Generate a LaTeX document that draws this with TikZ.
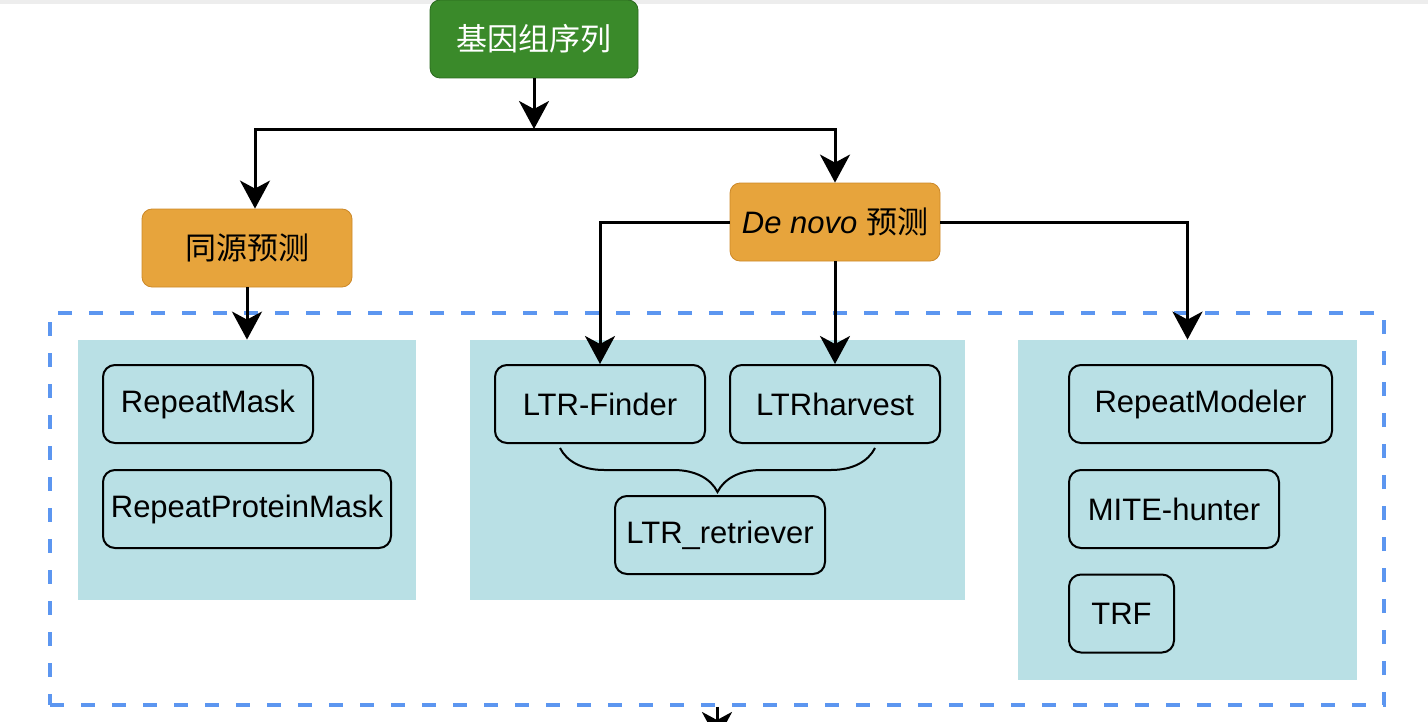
\documentclass[tikz,border=0pt]{standalone}
\usepackage{fontspec}
\setmainfont{Liberation Sans}
\newfontfamily\cjk{Noto Sans CJK SC}
\usepackage{xcolor}
\usetikzlibrary{arrows.meta,positioning,calc,decorations.pathreplacing}
\definecolor{seqgreen}{RGB}{58,138,42}
\definecolor{seqgreenline}{RGB}{42,104,30}
\definecolor{predorange}{RGB}{231,164,60}
\definecolor{predline}{RGB}{204,136,40}
\definecolor{toolpanel}{RGB}{185,224,229}
\definecolor{frameblue}{RGB}{92,150,240}
\newcommand{\zh}[1]{{\cjk #1}}

\begin{document}
\begin{tikzpicture}[x=0.5pt, y=-0.5pt, >={Stealth[length=14pt,width=15pt,inset=4pt]},
  font=\fontsize{15.5}{18}\selectfont,
  root/.style={rectangle, draw=seqgreenline, fill=seqgreen, text=white,
               rounded corners=5pt, minimum width=104pt, minimum height=39pt},
  pred/.style={rectangle, draw=predline, fill=predorange,
               rounded corners=5pt, minimum width=105pt, minimum height=39pt},
  panel/.style={rectangle, fill=toolpanel, inner sep=0pt},
  tool/.style={rectangle, draw, line width=1pt, rounded corners=6pt,
               minimum width=105pt, minimum height=39pt, inner sep=2pt},
  flow/.style={->, line width=1.5pt}]

  \useasboundingbox (0,0) rectangle (1428,722);
  \clip (0,0) rectangle (1428,722);
  \fill[black!7] (0,0) rectangle (1428,4);

  % Outer frame and panels
  \node[rectangle, draw=frameblue, line width=1.9pt, dash pattern=on 7pt off 8.5pt,
        minimum width=667pt, minimum height=196pt] (frame) at (717,509) {};
  \node[panel, minimum width=169pt, minimum height=130pt] (panA) at (247,470) {};
  \node[panel, minimum width=247.5pt, minimum height=130pt] (panB) at (717.5,470) {};
  \node[panel, minimum width=169.5pt, minimum height=170pt] (panC) at (1187.5,510) {};

  % Input and predictions
  \node[root] (genome) at (534,39) {\zh{基因组序列}};
  \node[pred] (homo) at (247,248) {\zh{同源预测}};
  \node[pred] (denovo) at (835,222) {\textit{De novo} \zh{预测}};
  \coordinate (split) at (534,129);

  % Tools
  \node[tool] (mask) at (208,404) {RepeatMask};
  \node[tool, minimum width=144pt] (protmask) at (247,509) {RepeatProteinMask};
  \node[tool] (finder) at (600,404) {LTR-Finder};
  \node[tool] (harvest) at (835,404) {LTRharvest};
  \node[tool] (retriever) at (720,535) {LTR\_retriever};
  \node[tool, minimum width=131.5pt] (modeler) at (1200.5,404) {RepeatModeler};
  \node[tool] (mite) at (1174,509) {MITE-hunter};
  \node[tool, minimum width=52.5pt] (trf) at (1121.5,613.5) {TRF};

  % Arrows
  \draw[flow] (genome) -- (split);
  \draw[flow] (split) -| ([xshift=4pt]homo.north);
  \draw[flow] (split) -| (denovo.north);
  \draw[flow] (homo) -- (homo |- panA.north);
  \draw[flow] (denovo.west) -| (finder.north);
  \draw[flow] (denovo) -- (harvest);
  \draw[flow] (denovo.east) -| (panC.north);
  \draw[line width=1pt, decorate, decoration={brace, mirror, amplitude=22pt}]
    ($(finder.south)+(-40,4)$) -- ($(harvest.south)+(40,4)$);
  \coordinate (exit) at (717,740);
  \draw[flow] (frame.south) -- (exit);
\end{tikzpicture}
\end{document}
